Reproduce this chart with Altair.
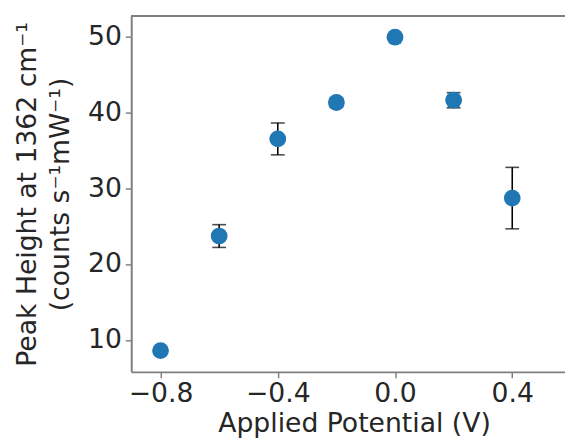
import altair as alt
import pandas as pd

potential = [-0.8, -0.6, -0.4, -0.2, 0.0, 0.2, 0.4]
peak_height = [8.6, 23.7, 36.5, 41.3, 49.9, 41.6, 28.7]
error = [0.3, 1.5, 2.1, 0.6, 0.3, 1.0, 4.05]
x_ticks = [-0.8, -0.4, 0.0, 0.4]
y_ticks = [10, 20, 30, 40, 50]

df = pd.DataFrame({"x": potential, "y": peak_height, "e": error})
df["lo"] = df["y"] - df["e"]
df["hi"] = df["y"] + df["e"]

W, H = 440, 361
FONT = "DejaVu Sans"
TXT = "#262626"
AX = "#808080"
FS = 27

xs = alt.Scale(domain=[-0.9, 0.58], nice=False, zero=False)
ys = alt.Scale(domain=[5.8, 52.7], nice=False, zero=False)

xaxis = alt.Axis(values=x_ticks, format=".1f", title="Applied Potential (V)",
                 grid=False, labelFontSize=FS, titleFontSize=FS,
                 labelFont=FONT, titleFont=FONT, labelColor=TXT, titleColor=TXT,
                 titleFontWeight="normal", domainColor=AX, domainWidth=2,
                 tickColor=AX, tickWidth=1.5, tickSize=6, labelPadding=3, titlePadding=5,
                 titleX=226)
yaxis = alt.Axis(values=y_ticks, format="d",
                 title=["Peak Height at 1362 cm⁻¹", "(counts s⁻¹mW⁻¹)"],
                 grid=False, labelFontSize=FS, titleFontSize=FS,
                 labelFont=FONT, titleFont=FONT, labelColor=TXT, titleColor=TXT,
                 titleFontWeight="normal", domainColor=AX, domainWidth=2,
                 tickColor=AX, tickWidth=1.5, tickSize=6, labelPadding=4, titlePadding=13,
                 titleLineHeight=34)

base = alt.Chart(df)

bars = base.mark_rule(color="black", strokeWidth=1.6).encode(
    x=alt.X("x:Q", scale=xs, axis=xaxis),
    y=alt.Y("lo:Q", scale=ys, axis=yaxis),
    y2="hi:Q",
)
caps_hi = base.mark_tick(color="black", orient="horizontal", size=14, thickness=1.6).encode(
    x=alt.X("x:Q", scale=xs), y=alt.Y("hi:Q", scale=ys))
caps_lo = base.mark_tick(color="black", orient="horizontal", size=14, thickness=1.6).encode(
    x=alt.X("x:Q", scale=xs), y=alt.Y("lo:Q", scale=ys))
points = base.mark_circle(color="#1f77b4", opacity=1, size=290).encode(
    x=alt.X("x:Q", scale=xs), y=alt.Y("y:Q", scale=ys))
top = alt.Chart(df).mark_rule(color=AX, strokeWidth=2).encode(
    x=alt.value(0), x2=alt.value(W), y=alt.value(0))

chart = alt.layer(bars, caps_hi, caps_lo, points, top).properties(
    width=W, height=H,
    autosize=alt.AutoSizeParams(type="none"),
    padding={"left": 125, "top": 5, "right": 0, "bottom": 65},
).configure_view(stroke=None).configure(background="white")

chart.save("out.html", embed_options={"renderer": "svg", "actions": False})
